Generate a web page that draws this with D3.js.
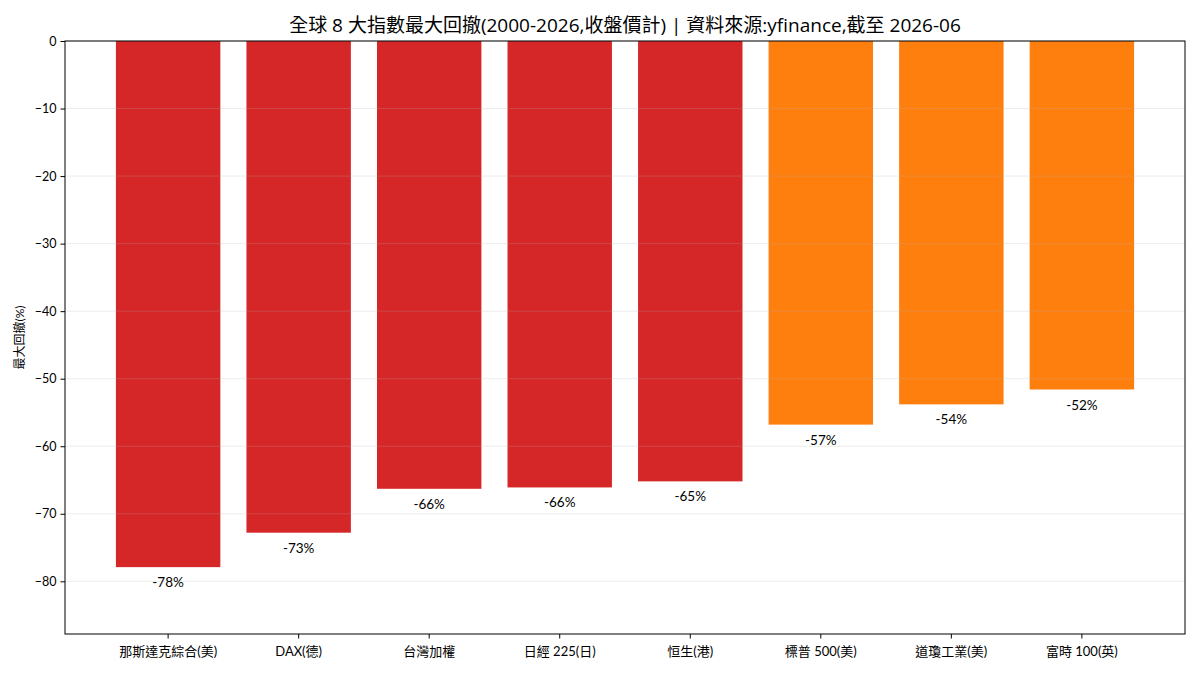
<!DOCTYPE html>
<html>
<head>
<meta charset="utf-8">
<script src="https://cdn.jsdelivr.net/npm/d3@7"></script>
<style>
  body { margin: 0; background: #fff; }
  text { font-family: Lato, "Noto Sans CJK TC", sans-serif; fill: #000; }
  .title { font-family: "Open Sans", "Noto Sans CJK TC", sans-serif; }
</style>
</head>
<body>
<div id="chart"></div>
<script>
// data
var categories = ["那斯達克綜合(美)", "DAX(德)", "台灣加權", "日經 225(日)", "恒生(港)", "標普 500(美)", "道瓊工業(美)", "富時 100(英)"]
var drawdowns = [-77.9, -72.8, -66.3, -66.1, -65.2, -56.8, -53.8, -51.6]
var groups = ["deep", "deep", "deep", "deep", "deep", "mid", "mid", "mid"]
var yTicks = [0, -10, -20, -30, -40, -50, -60, -70, -80]

var title = "全球 8 大指數最大回撤(2000-2026,收盤價計) | 資料來源:yfinance,截至 2026-06"

var colors = {deep: "#d62728", mid: "#ff7f0e"}

var margin = {top: 41, right: 15, bottom: 41, left: 65},
    W = 1200, H = 675,
    width = W - margin.left - margin.right,
    height = H - margin.top - margin.bottom

var data = categories.map((c, i) => ({name: c, v: drawdowns[i], g: groups[i]}))

var x = d3.scaleBand()
  .domain(categories)
  .range([0, width])
  .paddingInner(0.2)
  .paddingOuter(0.39)
var y = d3.scaleLinear().domain([-87.8, 0]).range([height, 0])

var svg = d3.select("#chart").append("svg")
  .attr("width", W)
  .attr("height", H)

svg.append("text")
  .attr("class", "title")
  .attr("x", margin.left + width / 2)
  .attr("y", 32)
  .attr("text-anchor", "middle")
  .style("font-size", "19px")
  .text(title)

var g = svg.append("g")
  .attr("transform", `translate(${[margin.left, margin.top]})`)

// bars
g.selectAll(".bar").data(data)
  .enter().append("rect")
  .attr("class", "bar")
  .attr("x", d => x(d.name))
  .attr("y", y(0))
  .attr("width", x.bandwidth())
  .attr("height", d => y(d.v) - y(0))
  .attr("fill", d => colors[d.g])

// grid on top, faint
g.selectAll(".grid").data(yTicks)
  .enter().append("line")
  .attr("class", "grid")
  .attr("x1", 0).attr("x2", width)
  .attr("y1", d => y(d)).attr("y2", d => y(d))
  .attr("stroke", "#b0b0b0")
  .attr("stroke-opacity", 0.3)
  .attr("stroke-width", 0.8)

// value labels
g.selectAll(".lbl").data(data)
  .enter().append("text")
  .attr("class", "lbl")
  .attr("x", d => x(d.name) + x.bandwidth() / 2)
  .attr("y", d => y(d.v) + 20)
  .attr("text-anchor", "middle")
  .style("font-size", "13.5px")
  .text(d => Math.round(d.v) + "%")

// axes
var yAxis = d3.axisLeft(y).tickValues(yTicks).tickSize(4.5).tickPadding(4)
var xAxis = d3.axisBottom(x).tickSize(4.5).tickPadding(8)

var ya = g.append("g").call(yAxis)
ya.select(".domain").remove()
ya.selectAll("text").style("font-size", "12.5px")
ya.selectAll("line").attr("stroke", "#000")

var xa = g.append("g")
  .attr("transform", `translate(0,${height})`)
  .call(xAxis)
xa.select(".domain").remove()
xa.selectAll("text").style("font-size", "13px")
xa.selectAll("line").attr("stroke", "#000")

// frame
g.append("rect")
  .attr("width", width)
  .attr("height", height)
  .attr("fill", "none")
  .attr("stroke", "#000")
  .attr("stroke-width", 1)

svg.append("text")
  .attr("transform", `translate(24,${margin.top + height / 2}) rotate(-90)`)
  .attr("text-anchor", "middle")
  .style("font-size", "12px")
  .text("最大回撤(%)")
</script>
</body>
</html>
